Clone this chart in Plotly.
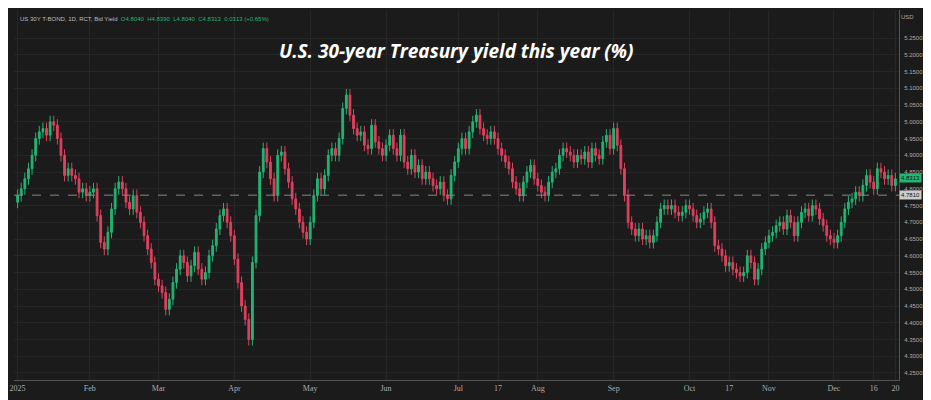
import plotly.graph_objects as go
import pandas as pd

closes = [
 4.78,4.80,4.83,4.86,4.90,4.95,4.97,4.98,4.96,5.00,4.99,4.95,4.90,4.84,4.86,4.84,4.83,4.79,4.80,4.78,4.79,
 4.80,4.72,4.64,4.62,4.67,4.74,4.80,4.82,4.80,4.76,4.74,4.78,4.73,4.70,4.66,4.62,4.58,4.53,4.51,
 4.49,4.44,4.47,4.52,4.56,4.60,4.58,4.54,4.57,4.61,4.56,4.53,4.55,4.60,4.63,4.68,4.72,4.74,4.70,4.66,4.59,
 4.52,4.45,4.41,4.35,4.58,4.72,4.85,4.92,4.88,4.83,4.78,4.90,4.91,4.86,4.82,4.77,4.74,4.70,4.67,4.65,4.70,
 4.78,4.83,4.80,4.84,4.90,4.92,4.90,4.95,5.04,5.08,5.02,4.98,4.96,4.97,4.93,4.92,4.99,4.94,4.92,4.90,4.93,
 4.96,4.92,4.90,4.96,4.88,4.86,4.90,4.85,4.87,4.83,4.85,4.83,4.81,4.80,4.82,4.78,4.77,4.84,4.88,4.92,
 4.95,4.92,4.97,5.00,5.02,4.98,4.96,4.95,4.97,4.95,4.92,4.90,4.88,4.86,4.82,4.80,4.78,4.82,4.85,4.87,4.83,4.81,
 4.79,4.78,4.82,4.85,4.86,4.90,4.92,4.91,4.90,4.88,4.90,4.89,4.91,4.88,4.92,4.90,4.89,4.94,4.96,4.92,
 4.98,4.93,4.86,4.78,4.70,4.68,4.66,4.68,4.65,4.66,4.64,4.66,4.70,4.74,4.75,4.74,4.75,4.73,4.72,4.73,4.75,4.74,
 4.72,4.70,4.71,4.73,4.74,4.70,4.63,4.62,4.60,4.57,4.58,4.56,4.55,4.54,4.55,4.60,4.58,4.53,4.56,4.62,4.64,4.66,
 4.67,4.69,4.70,4.68,4.72,4.70,4.66,4.70,4.73,4.74,4.72,4.75,4.74,4.71,4.69,4.66,4.65,4.64,4.66,4.70,
 4.74,4.76,4.77,4.79,4.78,4.81,4.84,4.82,4.80,4.86,4.85,4.83,4.84,4.81,4.83]
first_open = 4.76
wick = 0.018
holidays = ["2025-01-01","2025-01-09","2025-01-20","2025-02-17","2025-04-18","2025-05-26",
            "2025-06-19","2025-07-04","2025-09-01","2025-10-13","2025-11-11","2025-11-27","2025-12-25"]
tick_dates = ["2025-01-02","2025-02-03","2025-03-03","2025-04-01","2025-05-01","2025-06-02","2025-07-01",
              "2025-07-17","2025-08-01","2025-09-02","2025-10-01","2025-10-17","2025-11-03","2025-12-01",
              "2025-12-16","2025-12-24"]
tick_text = ["2025","Feb","Mar","Apr","May","Jun","Jul","17","Aug","Sep","Oct","17","Nov","Dec","16","20"]
last_close = 4.8313
ref_line = 4.7810

cbd = pd.offsets.CustomBusinessDay(holidays=holidays)
dates = pd.date_range("2025-01-02", periods=len(closes), freq=cbd)
opens = [first_open] + closes[:-1]
highs = [max(o, c) + wick for o, c in zip(opens, closes)]
lows = [min(o, c) - wick for o, c in zip(opens, closes)]

green, red = "#22b573", "#e0405e"
fig = go.Figure(go.Candlestick(x=dates, open=opens, high=highs, low=lows, close=closes,
    increasing=dict(line=dict(color=green, width=1), fillcolor=green),
    decreasing=dict(line=dict(color=red, width=1), fillcolor=red), whiskerwidth=0))
fig.add_hline(y=ref_line, line=dict(color="#888", width=1, dash="dash"))

yt = [round(4.25 + 0.05*i, 2) for i in range(21)]
fig.update_layout(
    width=931, height=400, margin=dict(l=6, r=40, t=2, b=28),
    paper_bgcolor="#1b1b1b", plot_bgcolor="#1b1b1b", showlegend=False,
    xaxis=dict(rangeslider=dict(visible=False), rangebreaks=[dict(bounds=["sat","mon"]), dict(values=holidays)],
               range=["2024-12-31","2025-12-26"], tickvals=tick_dates, ticktext=tick_text,
               tickfont=dict(color="#aaa", size=8, family="Liberation Sans Narrow, Arial Narrow"),
               gridcolor="#262626", showline=True, linecolor="#555", ticks=""),
    yaxis=dict(side="right", range=[4.229, 5.334], tickvals=yt, ticktext=[f"{v:.4f}" for v in yt],
               tickfont=dict(color="#aaa", size=6), gridcolor="#262626", showline=True, linecolor="#555",
               ticks="", ticklabelstandoff=3),
    font=dict(family="Liberation Sans"),
)
fig.add_annotation(x=0.5, y=0.93, xref="paper", yref="paper", showarrow=False,
    text="<b><i>U.S. 30-year Treasury yield this year (%)</i></b>", font=dict(color="white", size=19, family="Open Sans"))
fig.add_annotation(x=0.005, y=0.99, xref="paper", yref="paper", xanchor="left", showarrow=False,
    text="US 30Y T-BOND, 1D, RCT, Bid Yield  <span style='color:#22b573'>O4.8040  H4.8390  L4.8040  C4.8313  0.0313 (+0.65%)</span>",
    font=dict(color="#bbb", size=6))
fig.add_annotation(x=1.0, y=last_close, xref="paper", yref="y", xanchor="left", showarrow=False,
    text=f"{last_close:.4f}", bgcolor=green, font=dict(color="#111", size=6), borderpad=1)
fig.add_annotation(x=1.0, y=ref_line, xref="paper", yref="y", xanchor="left", showarrow=False,
    text=f"{ref_line:.4f}", bgcolor="#ccc", font=dict(color="#111", size=6), borderpad=1)
fig.add_annotation(x=1.0, y=0.995, xref="paper", yref="paper", xanchor="left", yanchor="top", showarrow=False,
    text="USD", font=dict(color="#aaa", size=6))
fig.write_html("out.html")
